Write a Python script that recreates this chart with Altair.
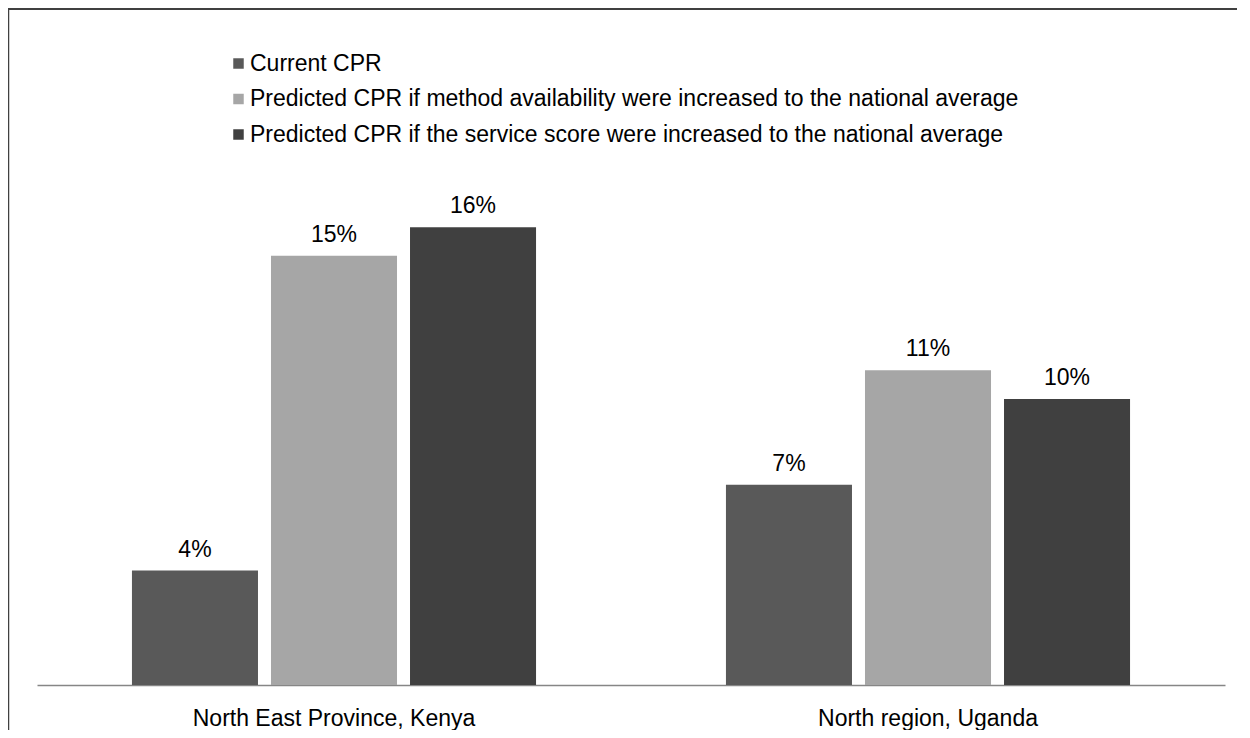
import altair as alt
import pandas as pd

regions = ["North East Province, Kenya", "North region, Uganda"]
series = [
    "Current CPR",
    "Predicted CPR if method availability were increased to the national average",
    "Predicted CPR if the service score were increased to the national average",
]
current_cpr = [4, 7]
method_cpr = [15, 11]
service_cpr = [16, 10]
colors = ["#595959", "#a6a6a6", "#404040"]

rows = []
for s, vals in zip(series, [current_cpr, method_cpr, service_cpr]):
    for r, v in zip(regions, vals):
        rows.append({"region": r, "series": s, "value": v, "label": f"{v}%"})
df = pd.DataFrame(rows)

FONT = "Liberation Sans"
FS = 23

base = alt.Chart(df).encode(
    x=alt.X(
        "region:N",
        sort=regions,
        scale=alt.Scale(paddingInner=0, paddingOuter=0),
        axis=alt.Axis(
            title=None,
            labelAngle=0,
            ticks=False,
            domainColor="#868686",
            domainWidth=1.5,
            labelFontSize=FS,
            labelColor="black",
            labelFont=FONT,
            labelPadding=33,
            labelBaseline="middle",
            labelLimit=2000,
        ),
    ),
    xOffset=alt.XOffset(
        "series:N",
        sort=series,
        scale=alt.Scale(paddingInner=0.0935, paddingOuter=0.683),
    ),
    y=alt.Y("value:Q", scale=alt.Scale(domain=[0, 18]), axis=None),
)

bars = base.mark_bar().encode(
    color=alt.Color(
        "series:N",
        sort=series,
        scale=alt.Scale(domain=series, range=colors),
        legend=alt.Legend(
            title=None,
            orient="none",
            legendX=190,
            legendY=-118,
            padding=0,
            symbolType="square",
            symbolSize=110,
            symbolStrokeWidth=0,
            labelFontSize=FS,
            labelFont=FONT,
            labelColor="black",
            labelLimit=2000,
            labelOffset=0,
            rowPadding=11.5,
            direction="vertical",
        ),
    )
)

text = base.mark_text(dy=-14, fontSize=FS, font=FONT, color="black", baseline="alphabetic").encode(
    text="label:N"
)

frame_df = pd.DataFrame({"a": [0]})
top_line = alt.Chart(frame_df).mark_rule(color="#404040", strokeWidth=2).encode(
    x=alt.value(-29), x2=alt.value(1230), y=alt.value(-161)
)
left_line = alt.Chart(frame_df).mark_rule(color="#404040", strokeWidth=1.5).encode(
    x=alt.value(-28.5), y=alt.value(-162), y2=alt.value(560)
)

chart = (
    alt.layer(top_line, left_line, bars, text)
    .properties(
        width=1188,
        height=515,
        autosize=alt.AutoSizeParams(type="none"),
        padding={"left": 29, "top": 162, "right": 12, "bottom": 45},
    )
    .configure(font=FONT)
    .configure_view(strokeWidth=0, stroke=None)
)

chart.save("out.html", embed_options={"renderer": "svg", "actions": False})
